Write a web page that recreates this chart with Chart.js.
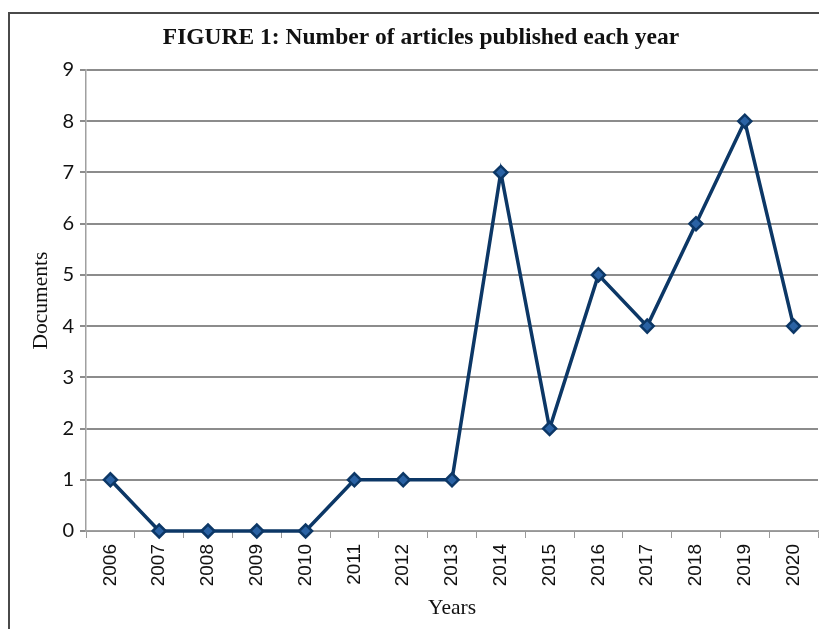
<!DOCTYPE html>
<html>
<head>
<meta charset="utf-8">
<script src="https://cdn.jsdelivr.net/npm/chart.js@4"></script>
<style>
  html, body { margin: 0; padding: 0; background: #fff; overflow: hidden; }
  canvas { display: block; }
</style>
</head>
<body>
<canvas id="c" width="819" height="629"></canvas>
<script>
const years = ["2006","2007","2008","2009","2010","2011","2012","2013","2014","2015","2016","2017","2018","2019","2020"];
const documents = [1, 0, 0, 0, 0, 1, 1, 1, 7, 2, 5, 4, 6, 8, 4];
const yTicks = [0, 1, 2, 3, 4, 5, 6, 7, 8, 9];
const chartTitle = "FIGURE 1: Number of articles published each year";
const xTitle = "Years";
const yTitle = "Documents";

const framePlugin = {
  id: 'frame',
  beforeDraw(chart) {
    const ctx = chart.ctx;
    ctx.save();
    ctx.strokeStyle = '#4a4a4a';
    ctx.lineWidth = 2;
    ctx.beginPath();
    ctx.moveTo(9, chart.height);
    ctx.lineTo(9, 13);
    ctx.lineTo(chart.width, 13);
    ctx.stroke();
    ctx.restore();
  }
};

new Chart(document.getElementById('c'), {
  type: 'line',
  data: {
    labels: years,
    datasets: [{
      label: yTitle,
      data: documents,
      borderColor: '#0c3766',
      borderWidth: 3.5,
      backgroundColor: '#2a62a4',
      pointStyle: 'rectRot',
      pointRadius: 6.5,
      pointBorderWidth: 2.5,
      pointBorderColor: '#0c3766',
      pointBackgroundColor: '#2a62a4',
      tension: 0,
      clip: false
    }]
  },
  plugins: [framePlugin],
  options: {
    responsive: false,
    animation: false,
    devicePixelRatio: 1,
    layout: { autoPadding: false, padding: { left: 24, right: 1, top: 0, bottom: 0 } },
    plugins: {
      legend: { display: false },
      tooltip: { enabled: false },
      title: {
        display: true,
        text: chartTitle,
        color: '#111',
        font: { family: 'Liberation Serif', size: 23.5, weight: 'bold' },
        padding: { top: 24, bottom: 17.8 }
      }
    },
    scales: {
      x: {
        type: 'category',
        offset: true,
        grid: { display: true, drawOnChartArea: false, drawTicks: true, tickLength: 7, color: '#9a9a9a', lineWidth: 1, offset: true },
        border: { display: true, color: '#a0a0a0', width: 1.5 },
        ticks: {
          color: '#111', minRotation: 90, maxRotation: 90, autoSkip: false, padding: 6,
          font: { family: 'Liberation Sans', size: 19 }
        },
        title: {
          display: true, text: xTitle, color: '#111',
          font: { family: 'Liberation Serif', size: 21.5 },
          padding: { top: 0, bottom: 8 }
        },
        afterFit(scale) { scale.height = 98; scale.paddingLeft = 0; scale.paddingRight = 0; }
      },
      y: {
        min: 0, max: 9,
        afterBuildTicks(scale) { scale.ticks = yTicks.map(v => ({ value: v })); },
        grid: { display: true, drawOnChartArea: true, drawTicks: true, tickLength: 6, color: '#8c8c8c', lineWidth: 2 },
        border: { display: true, color: '#a0a0a0', width: 1.5 },
        ticks: {
          color: '#111', padding: 6,
          font: { family: 'Lato', size: 20 }
        },
        title: {
          display: true, text: yTitle, color: '#111',
          font: { family: 'Liberation Serif', size: 21.5 },
          padding: { top: 4, bottom: 0 }
        },
        afterFit(scale) { scale.width = 62; }
      }
    }
  }
});
</script>
</body>
</html>
